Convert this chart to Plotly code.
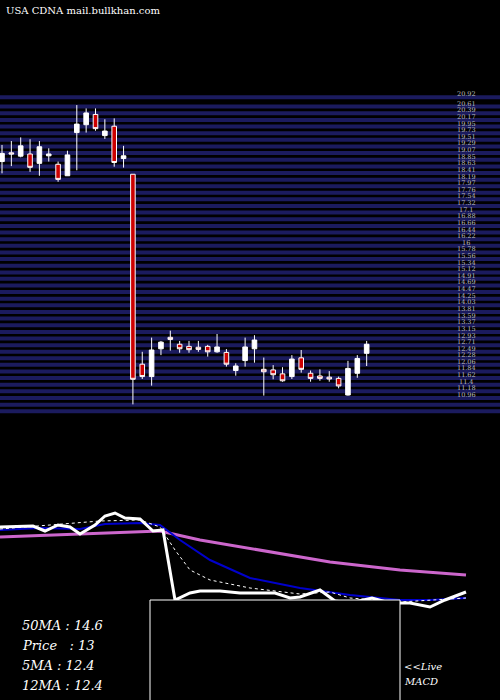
import plotly.graph_objects as go

# candles (daily), oldest first
opens = [18.69, 18.98, 18.87, 18.94, 18.63, 18.88, 18.60, 18.22, 19.65, 19.91,
         20.25, 19.55, 19.86, 18.79, 18.27, 11.98, 11.57, 12.49, 12.87, 12.64,
         12.57, 12.54, 12.57, 12.39, 12.37, 11.77, 12.10, 12.49, 11.81, 11.79,
         11.66, 11.57, 12.19, 11.68, 11.59, 11.55, 11.51, 10.96, 11.68, 12.34]
highs = [19.24, 19.37, 19.49, 19.43, 19.37, 19.13, 18.69, 19.05, 20.56, 20.45,
         20.45, 20.09, 20.12, 19.21, 18.27, 12.39, 12.86, 12.75, 13.09, 12.75,
         12.75, 12.75, 12.62, 12.98, 12.48, 12.01, 12.86, 12.94, 12.20, 11.95,
         11.88, 12.28, 12.45, 11.77, 11.81, 11.75, 11.57, 12.09, 12.28, 12.75]
lows = [18.30, 18.54, 18.83, 18.35, 18.22, 18.69, 18.02, 18.22, 18.40, 19.65,
        19.71, 19.44, 18.52, 18.49, 10.65, 11.49, 11.27, 12.28, 12.43, 12.36,
        12.36, 12.39, 12.23, 12.36, 11.90, 11.60, 11.90, 12.03, 10.94, 11.48,
        11.40, 11.49, 11.70, 11.40, 11.43, 11.40, 11.18, 10.94, 11.53, 11.92]
closes = [18.96, 18.94, 19.21, 18.50, 19.18, 18.94, 18.10, 18.91, 19.93, 20.30,
          19.78, 19.70, 18.66, 18.88, 11.48, 11.57, 12.45, 12.71, 12.80, 12.49,
          12.46, 12.47, 12.39, 12.55, 11.98, 11.92, 12.55, 12.78, 11.73, 11.63,
          11.43, 12.15, 11.81, 11.51, 11.51, 11.49, 11.26, 11.84, 12.17, 12.64]

# price levels on the right
levels = [20.92, 20.61, 20.39, 20.17, 19.95, 19.73, 19.51, 19.29, 19.07, 18.85,
          18.63, 18.41, 18.19, 17.97, 17.76, 17.54, 17.32, 17.1, 16.88, 16.66,
          16.44, 16.22, 16, 15.78, 15.56, 15.34, 15.12, 14.91, 14.69, 14.47,
          14.25, 14.03, 13.81, 13.59, 13.37, 13.15, 12.93, 12.71, 12.49, 12.28,
          12.06, 11.84, 11.62, 11.4, 11.18, 10.96]
extra_levels = [10.74, 10.52]

# lower panel: price and moving averages (longer history, panel units)
ma_x = [0, 33, 45, 58, 70, 80, 95, 105, 115, 125, 140, 153, 163, 175, 190, 200,
        220, 240, 275, 290, 300, 320, 335, 350, 372, 390, 410, 430, 445, 466]
ma_price = [527, 526, 531, 525, 527, 534, 525, 516, 513, 518, 519, 531, 530, 600, 593, 591,
            591, 593, 593, 598, 597, 590, 601, 603, 598, 603, 603, 607, 600, 592]
blue_x = [0, 40, 80, 105, 140, 160, 180, 210, 250, 300, 350, 400, 430, 466]
blue_y = [530, 528, 529, 524, 523, 525, 540, 560, 578, 588, 595, 600, 600, 598]
pink_x = [0, 50, 100, 160, 200, 260, 330, 400, 466]
pink_y = [537, 535, 533, 531, 540, 550, 562, 570, 575]
dot_x = [0, 100, 140, 160, 175, 190, 210, 250, 300, 330, 350, 400, 466]
dot_y = [529, 521, 520, 527, 550, 570, 580, 588, 594, 592, 598, 602, 598]

# MACD inset
macd_x = [150, 190, 230, 240, 390]
macd_sig = [650, 650]
macd_line = [657, 659, 657, 650, 650]

idx = list(range(len(opens)))

fig = go.Figure()
fig.add_trace(go.Candlestick(
    x=idx, open=opens, high=highs, low=lows, close=closes,
    increasing=dict(line=dict(color="white", width=1), fillcolor="white"),
    decreasing=dict(line=dict(color="white", width=1), fillcolor="#cc0000"),
    whiskerwidth=0, showlegend=False))

for lv in levels + extra_levels:
    fig.add_shape(type="line", xref="paper", x0=0, x1=1, yref="y", y0=lv - 0.1, y1=lv - 0.1,
                  line=dict(color="#1b1b5e", width=4), layer="below")
for lv in levels:
    fig.add_annotation(x=466, xref="x2", y=lv, yref="y", text=f"{lv:g}", showarrow=False,
                       font=dict(family="DejaVu Serif", size=6.5, color="#bbbbbb"))

fig.add_trace(go.Scatter(x=pink_x, y=pink_y, xaxis="x2", yaxis="y2", mode="lines",
                         line=dict(color="#cc66cc", width=3), showlegend=False))
fig.add_trace(go.Scatter(x=blue_x, y=blue_y, xaxis="x2", yaxis="y2", mode="lines",
                         line=dict(color="#0000cc", width=2), showlegend=False))
fig.add_trace(go.Scatter(x=dot_x, y=dot_y, xaxis="x2", yaxis="y2", mode="lines",
                         line=dict(color="white", width=1, dash="dot"), showlegend=False))
fig.add_trace(go.Scatter(x=ma_x, y=ma_price, xaxis="x2", yaxis="y2", mode="lines",
                         line=dict(color="white", width=3), showlegend=False))

fig.add_shape(type="rect", xref="x2", yref="y2", x0=150, x1=400, y0=600, y1=702,
              line=dict(color="white", width=1), fillcolor="black")
fig.add_trace(go.Scatter(x=[150, 400], y=macd_sig, xaxis="x2", yaxis="y2", mode="lines",
                         line=dict(color="#cc66cc", width=2), showlegend=False))
fig.add_trace(go.Scatter(x=macd_x, y=macd_line, xaxis="x2", yaxis="y2", mode="lines",
                         line=dict(color="white", width=2), showlegend=False))

info = [("50MA : 14.6", 625), ("Price   : 13", 645), ("5MA : 12.4", 665), ("12MA : 12.4", 685)]
for txt, yy in info:
    fig.add_annotation(x=20, xref="x2", y=yy, yref="y2", text="<i>" + txt + "</i>", showarrow=False,
                       xanchor="left", font=dict(family="DejaVu Serif", size=13, color="white"))
fig.add_annotation(x=402, xref="x2", y=666, yref="y2", text="<i>&lt;&lt;Live</i>", showarrow=False,
                   xanchor="left", font=dict(family="DejaVu Serif", size=10, color="white"))
fig.add_annotation(x=402, xref="x2", y=681, yref="y2", text="<i>MACD</i>", showarrow=False,
                   xanchor="left", font=dict(family="DejaVu Serif", size=10, color="white"))
fig.add_annotation(x=4, xref="x2", y=10, yref="y2", text="USA CDNA mail.bullkhan.com", showarrow=False,
                   xanchor="left", font=dict(family="DejaVu Serif", size=10, color="white"))

fig.update_layout(
    width=500, height=700, margin=dict(l=0, r=0, t=0, b=0),
    paper_bgcolor="black", plot_bgcolor="black",
    xaxis=dict(range=[-0.214, 53.26], visible=False, rangeslider=dict(visible=False)),
    yaxis=dict(range=[0.86, 24.04], visible=False),
    xaxis2=dict(range=[0, 500], visible=False, overlaying="x"),
    yaxis2=dict(range=[700, 0], visible=False, overlaying="y"),
)
fig.write_html("out.html", config={"displayModeBar": False},
               post_script="document.body.style.margin='0';")
